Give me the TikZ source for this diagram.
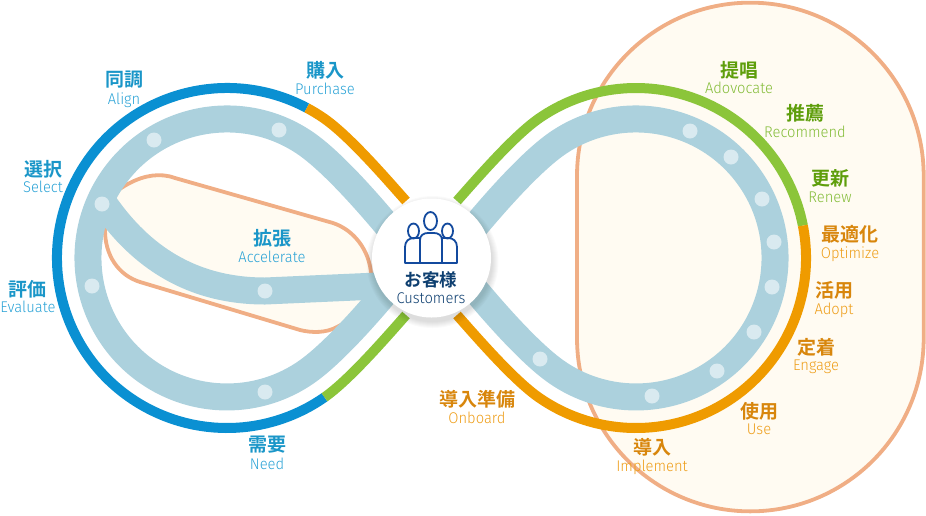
\documentclass[tikz,border=0pt]{standalone}
\usepackage{fontspec}
\setmainfont{Fira Sans Light}
\newfontfamily\jpf{Noto Sans CJK JP Bold}
\newfontfamily\enf{Fira Sans Light}[FakeStretch=0.95]
\definecolor{cBlue}{HTML}{0A90D2}
\definecolor{cOrange}{HTML}{EF9B00}
\definecolor{cGreen}{HTML}{8BC53A}
\definecolor{cBand}{HTML}{ACD1DD}
\definecolor{cDot}{HTML}{D9EAF0}
\definecolor{cPeach}{HTML}{F0AE85}
\definecolor{cCream}{HTML}{FFFBF2}
\definecolor{cIcon}{HTML}{134A9E}
\definecolor{cNavy}{HTML}{0E3F70}
\definecolor{tBlueJ}{HTML}{1A96C8}
\definecolor{tBlueE}{HTML}{2BA3D6}
\definecolor{tGreenJ}{HTML}{5E9E0B}
\definecolor{tGreenE}{HTML}{85BD3A}
\definecolor{tOrangeJ}{HTML}{D8860C}
\definecolor{tOrangeE}{HTML}{EE9E1A}
\tikzset{
  ring/.style={line width=10pt,line cap=butt,line join=round},
  bandline/.style={draw=cBand,line width=27pt,line cap=butt,line join=round},
  zone/.style={draw=cPeach,fill=cCream,line width=3.8pt},
  spot/.style={circle,fill=cDot,inner sep=0pt,minimum size=15pt},
  jl/.style={inner sep=0pt,font=\jpf\fontsize{19}{19}\selectfont},
  el/.style={inner sep=0pt,anchor=base,font=\enf\fontsize{15.5}{16}\selectfont},
  person/.style={draw=cIcon,line width=1.8pt,line join=round},
}
% name, x, y jp, y en (baseline), jp text, en text, colour stem
\newcommand{\lbl}[7]{%
  \node[jl,text=#7J] (#1j) at (#2,#3) {#5};
  \node[el,text=#7E] (#1e) at (#2,#4+5) {#6};
}
\begin{document}
\begin{tikzpicture}[x=1pt,y=1pt,yscale=-1]
\useasboundingbox (0,0) rectangle (926,515);
% peach zones
\draw[zone] (577,176) arc[start angle=180,end angle=360,radius=173.35] -- (923.7,338) arc[start angle=0,end angle=180,radius=173.35] -- cycle;
\draw[zone] (175,178) -- (333,223) .. controls (354,230) and (369,250) .. (371,273)
  -- (372,292) -- (350,320) -- (337,327) .. controls (326,333) and (312,333) .. (300,330)
  -- (140,282) .. controls (118,275) and (105,255) .. (105,230)
  -- (92,215) .. controls (112,190) and (145,167) .. (175,178) -- cycle;
% outer rings
\draw[ring,cBlue] (227,258) ++(-62:170) arc[start angle=-62,end angle=-305,radius=170];
\draw[ring,cOrange] (227,258) ++(-62:170) arc[start angle=-62,end angle=-55,radius=170] .. controls (349,136) and (383,175) .. (406,201);
\draw[ring,cGreen] (324.5,397.3) .. controls (349,380) and (383,341) .. (406,315);
\draw[ring,cGreen] (636,258) ++(-11:170) arc[start angle=-11,end angle=-125,radius=170] .. controls (514,136) and (480,175) .. (457,201);
\draw[ring,cOrange] (636,258) ++(-11:170) arc[start angle=-11,end angle=125,radius=170] .. controls (514,380) and (480,341) .. (457,315);
% bands
\draw[bandline] (395,235) .. controls (358,190) and (327.2,158.5) .. (306.7,144.1) arc[start angle=-55,end angle=-305,radius=139] .. controls (327.2,357.5) and (358,326) .. (395,281);
\draw[bandline] (468,235) .. controls (505,190) and (535.8,158.5) .. (556.3,144.1) arc[start angle=-125,end angle=125,radius=139] .. controls (535.8,357.5) and (505,326) .. (468,281);
\draw[bandline] (105,205) .. controls (140,255) and (190,291) .. (265,291) -- (400,285);
% dots
\foreach \n/\x/\y in {a/154/140,b/279/130,c/102/204,d/92/286,e/265/291,f/265/392,g/690/131,h/731/157,i/762/199,j/774/242,k/772/287,l/754/332,m/717/371,n/652/396,o/540/359}
  \node[spot] (dot\n) at (\x,\y) {};
% centre disc with soft shadow
\foreach \r in {66,65,64,63,62,61,60}
  \fill[black,opacity=0.02] (432.5,262) circle[radius=\r];
\node[circle,fill=white,inner sep=0pt,minimum size=119pt] (hub) at (431.5,258) {};
% customers icon
\draw[person] (405,263) -- (405,247) .. controls (405,241) and (409,238) .. (414,238) -- (420,238) -- (420,263) -- cycle;
\draw[person] (457,263) -- (457,247) .. controls (457,241) and (453,238) .. (448,238) -- (442,238) -- (442,263) -- cycle;
\draw[person,fill=white] (420,263) -- (420,240) .. controls (420,235) and (424,233) .. (428,233) -- (434,233) .. controls (438,233) and (442,235) .. (442,240) -- (442,263) -- cycle;
\draw[person] (413.5,231) ellipse[x radius=5.5,y radius=7.5];
\draw[person] (447.5,231) ellipse[x radius=5.5,y radius=7.5];
\draw[person] (430.5,221) ellipse[x radius=6.5,y radius=9];
\node[inner sep=0pt,text=cNavy,font=\jpf\fontsize{17.5}{17.5}\selectfont] (hubj) at (431,280) {お客様};
\node[inner sep=0pt,anchor=base,text=cNavy,font=\enf\fontsize{15.5}{16}\selectfont] (hube) at (431,303) {Customers};
% labels
\lbl{align}{124}{80}{99}{同調}{Align}{tBlue}
\lbl{purchase}{325}{70}{89}{購入}{Purchase}{tBlue}
\lbl{select}{43}{169}{187}{選択}{Select}{tBlue}
\lbl{accel}{272}{238}{257}{拡張}{Accelerate}{tBlue}
\lbl{evaluate}{28}{289}{307}{評価}{Evaluate}{tBlue}
\lbl{need}{267}{445}{464}{需要}{Need}{tBlue}
\lbl{advocate}{739}{70}{88}{提唱}{Adovocate}{tGreen}
\lbl{recommend}{805}{113}{132}{推薦}{Recommend}{tGreen}
\lbl{renew}{830}{178}{197}{更新}{Renew}{tGreen}
\lbl{optimize}{850}{234}{253}{最適化}{Optimize}{tOrange}
\lbl{adopt}{834}{290}{309}{活用}{Adopt}{tOrange}
\lbl{engage}{816}{347}{365}{定着}{Engage}{tOrange}
\lbl{use}{759}{411}{429}{使用}{Use}{tOrange}
\lbl{implement}{652}{447}{466}{導入}{Implement}{tOrange}
\lbl{onboard}{477}{399}{418}{導入準備}{Onboard}{tOrange}
\end{tikzpicture}
\end{document}
